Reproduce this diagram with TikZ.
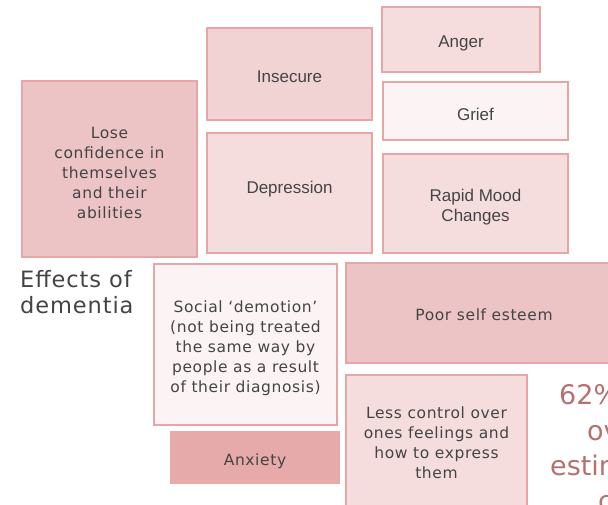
\documentclass[tikz,border=0pt]{standalone}
\usepackage{fontspec}
\setmainfont{DejaVu Sans}
\newfontfamily\helv{Liberation Sans}
\newfontfamily\wide[LetterSpace=4]{DejaVu Sans}
\definecolor{bd}{HTML}{E6A5A7}
\definecolor{fdark}{HTML}{ECC4C5}
\definecolor{fmid}{HTML}{F2D3D4}
\definecolor{flight}{HTML}{F5DDDE}
\definecolor{fpale}{HTML}{FCF4F4}
\definecolor{fanx}{HTML}{E6AAAB}
\definecolor{txt}{HTML}{444444}
\definecolor{redt}{HTML}{B5706F}
\tikzset{
  box/.style={draw=bd, line width=2pt, rectangle, inner sep=0pt},
  label text/.style={inner sep=0pt, align=center, text=txt},
  lucida/.style={font=\wide\fontsize{15.5}{20}\selectfont},
  helvs/.style={font=\helv\fontsize{17}{20}\selectfont},
  redtext/.style={text=redt, font=\fontsize{27}{32}\selectfont, anchor=base west, inner sep=0pt}
}
% name, box options, cx, cy, w, h, text shift (down), font style, text
\newcommand\effbox[9]{%
  \node[box, #2, minimum width=#5, minimum height=#6] (#1) at (#3,#4) {};
  \node[label text, #8] (#1-t) at ([yshift=-#7pt]#1.center) {#9};
}
\begin{document}
\begin{tikzpicture}[x=1pt,y=-1pt]
\useasboundingbox (0,0) rectangle (608,505);
\clip (0,0) rectangle (608,505);
\effbox{lose}{fill=fdark}{109.5}{169}{175}{176}{4}{lucida}{Lose\\confidence in\\themselves\\and their\\abilities}
\effbox{insecure}{fill=fmid}{289.5}{74}{165}{92}{3}{helvs}{Insecure}
\effbox{depression}{fill=flight}{289.5}{193}{165}{120}{-4}{helvs}{Depression}
\effbox{anger}{fill=flight}{461}{39.5}{158}{65}{4}{helvs}{Anger}
\effbox{grief}{fill=fpale}{475.5}{111}{185}{58}{3}{helvs}{Grief}
\effbox{rapid}{fill=flight}{475.5}{203.5}{185}{99}{4}{helvs}{Rapid Mood\\Changes}
\effbox{social}{fill=fpale}{245.5}{344.5}{183}{161}{4}{lucida}{Social ‘demotion’\\(not being treated\\the same way by\\people as a result\\of their diagnosis)}
\effbox{poor}{fill=fdark}{484}{313}{276}{100}{2}{lucida}{Poor self esteem}
\effbox{anxiety}{draw=fanx, fill=fanx}{255}{457.5}{168}{51}{4}{lucida}{Anxiety}
\effbox{less}{fill=flight}{436.5}{442.5}{181}{135}{0}{lucida}{Less control over\\ones feelings and\\how to express\\them}
\node[anchor=base west, inner sep=0pt, align=left, text=txt, font=\wide\fontsize{22.5}{26}\selectfont] (effects) at (20,313) {Effects of\\dementia};
\node[redtext] (r1) at (559,404) {62\%};
\node[redtext] (r2) at (587,440) {ov};
\node[redtext] (r3) at (550,475) {estim};
\node[redtext] (r4) at (598,510) {c};
\end{tikzpicture}
\end{document}
